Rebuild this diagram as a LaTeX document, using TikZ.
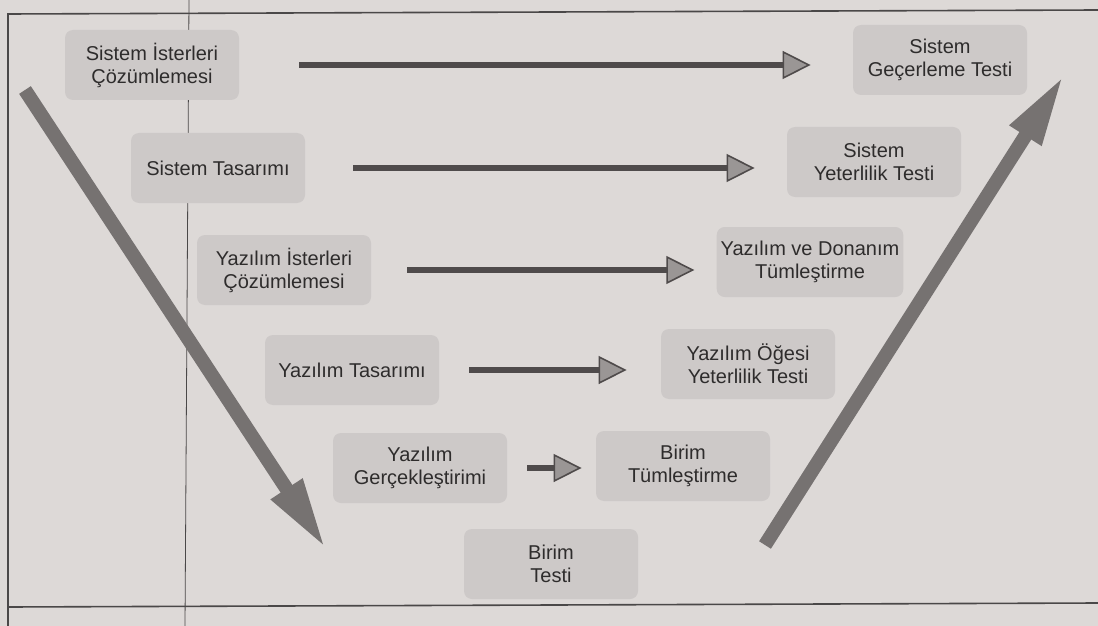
\documentclass[tikz,border=0pt]{standalone}
\usepackage{fontspec}
\setmainfont{Liberation Sans}
\usetikzlibrary{arrows.meta}
\definecolor{paper}{HTML}{DDD9D7}
\definecolor{boxgray}{HTML}{CDC9C8}
\definecolor{textgray}{HTML}{2E2C2C}
\definecolor{shaftgray}{HTML}{4F4B4B}
\definecolor{headgray}{HTML}{9A9695}
\definecolor{leggray}{HTML}{767271}
\definecolor{framegray}{HTML}{4A4848}

\begin{document}
\begin{tikzpicture}[x=0.5pt,y=-0.5pt,
  stage/.style={fill=boxgray,rounded corners=4pt,minimum width=87pt,minimum height=35pt,align=center,text=textgray,font=\fontsize{10}{11.5}\selectfont,inner sep=2pt},
  flow/.style={draw=shaftgray,line width=3pt,-{Triangle[length=14pt 0,width=14pt 0,line width=0.8pt,fill=headgray]}},
  leg/.style={draw=leggray,line width=7pt,-{Triangle[length=36pt 0,width=17pt 0]}}]
    \fill[paper] (0,0) rectangle (1098,626);
    \useasboundingbox (0,0) rectangle (1098,626);
    % page frame
    \draw[framegray,line width=0.8pt] (1098,10) -- (8,14) -- (8,626);
    \draw[framegray,line width=0.8pt] (8,607) -- (1098,603);
    \draw[framegray,line width=0.4pt] (189,0) -- (185,626);
    % left leg of the V
    \node[stage] (sic) at (152,65) {Sistem İsterleri\\Çözümlemesi};
    \node[stage] (st) at (218,168) {Sistem Tasarımı};
    \node[stage] (yic) at (284,270) {Yazılım İsterleri\\Çözümlemesi};
    \node[stage] (yt) at (352,370) {Yazılım Tasarımı};
    \node[stage] (yg) at (420,468) {Yazılım\\Gerçekleştirimi};
    % bottom
    \node[stage] (bt) at (551,564) {Birim\\Testi};
    % right leg of the V
    \node[stage] (btm) at (683,466) {Birim\\Tümleştirme};
    \node[stage] (yoy) at (748,364) {Yazılım Öğesi\\Yeterlilik Testi};
    \node[stage] (ydt) at (810,262) {Yazılım ve Donanım\\Tümleştirme};
    \node[stage] (syt) at (874,162) {Sistem\\Yeterlilik Testi};
    \node[stage] (sgt) at (940,60) {Sistem\\Geçerleme Testi};
    % horizontal arrows
    \draw[flow,shorten <=30pt,shorten >=21pt] (sic.east) -- (sic.east -| sgt.west);
    \draw[flow,shorten <=24pt,shorten >=16pt] (st.east) -- (st.east -| syt.west);
    \draw[flow,shorten <=18pt,shorten >=11pt] (yic.east) -- (yic.east -| ydt.west);
    \draw[flow,shorten <=15pt,shorten >=17pt] (yt.east) -- (yt.east -| yoy.west);
    \draw[flow,shorten <=10pt,shorten >=7pt] (yg.east) -- (yg.east -| btm.west);
    % the two legs
    \coordinate (ltop) at (25,90);
    \coordinate (lbot) at (326,549);
    \coordinate (rbot) at (765,545);
    \coordinate (rtop) at (1064,75);
    \draw[leg] (ltop) -- (lbot);
    \draw[leg] (rbot) -- (rtop);
\end{tikzpicture}
\end{document}
